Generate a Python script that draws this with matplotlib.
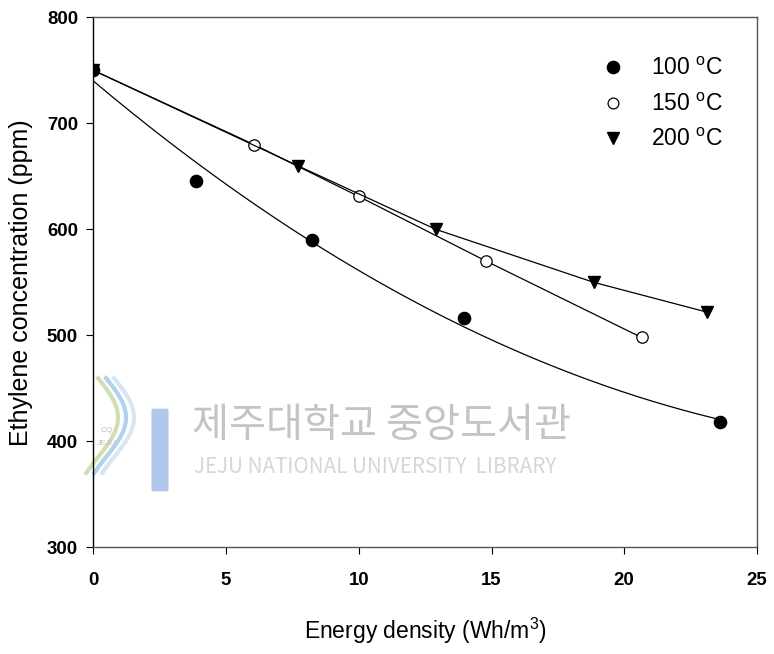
import numpy as np
import matplotlib
matplotlib.use("Agg")
import matplotlib.pyplot as plt
from matplotlib.patches import FancyBboxPatch
from matplotlib.lines import Line2D

plt.rcParams['font.family'] = ['Liberation Sans', 'DejaVu Sans']
plt.rcParams['mathtext.fontset'] = 'custom'
plt.rcParams['mathtext.rm'] = 'Liberation Sans'
plt.rcParams['mathtext.it'] = 'Liberation Sans:italic'
plt.rcParams['mathtext.bf'] = 'Liberation Sans:bold'

# Data
x_100 = [0, 3.85, 8.25, 13.95, 23.6]
y_100 = [750, 646, 590, 516, 418]
x_150 = [0, 6.05, 10.0, 14.8, 20.65]
y_150 = [750, 680, 631, 570, 498]
x_200 = [0, 7.7, 12.9, 18.85, 23.1]
y_200 = [750, 660, 600, 550, 522]
labels = ["100 $^{\\mathrm{o}}$C", "150 $^{\\mathrm{o}}$C", "200 $^{\\mathrm{o}}$C"]
x_ticks = [0, 5, 10, 15, 20, 25]
y_ticks = [300, 400, 500, 600, 700, 800]

fig = plt.figure(figsize=(7.74, 6.54), dpi=100)
ax = fig.add_axes([0.1206, 0.1631, 0.978 - 0.1206, 0.9735 - 0.1631])

# watermark
fig.text(192/774, 1 - 425/654, "제주대학교 중앙도서관", family=['Noto Sans CJK KR'],
         fontsize=29, color='#c4c4c4', va='center', ha='left', zorder=0)
fig.text(194/774, 1 - 467/654, "JEJU NATIONAL UNIVERSITY  LIBRARY", family=['Noto Sans CJK KR'],
         fontsize=14.8, color='#d6d6d6', va='center', ha='left', zorder=0)
# logo
t = np.linspace(0, 1, 50)
for dx, col in [(0, '#cadcaa'), (8, '#a9cde6'), (16, '#d2e4f2')]:
    xs = (98 + dx + 20*np.sin(t*np.pi*1.2)) / 774
    ys = 1 - (378 + t*95) / 654
    fig.add_artist(Line2D(xs, ys, color=col, lw=3, alpha=0.9, zorder=0))
bar = FancyBboxPatch((153/774, 1 - 490/654), 14/774, 80/654, boxstyle='round,pad=0.002',
                     transform=fig.transFigure, facecolor='#afc7e8', edgecolor='none', zorder=0)
fig.add_artist(bar)
fig.text(101/774, 1 - 432/654, "CQ", fontsize=6, color='#c0c0c0', zorder=0)
fig.text(97/774, 1 - 445/654, "JEJU", fontsize=6, color='#c0c0c0', zorder=0)

# 100 C: points + quadratic regression curve
ax.plot(x_100, y_100, linestyle='none', marker='o', ms=8.8, mfc='black', mec='black', zorder=5)
coef = np.polyfit(x_100, y_100, 2)
xf = np.linspace(0, x_100[-1], 200)
ax.plot(xf, np.polyval(coef, xf), color='black', lw=0.9, zorder=3)

# 150 C
ax.plot(x_150, y_150, color='black', lw=0.9, marker='o', ms=8.2, mfc='white', mec='black',
        mew=0.9, zorder=4)
# 200 C
ax.plot(x_200, y_200, color='black', lw=0.9, marker='v', ms=8.8, mfc='black', mec='black',
        zorder=4)

ax.set_xlim(0, 25)
ax.set_ylim(300, 800)
ax.set_xticks(x_ticks)
ax.set_yticks(y_ticks)
ax.set_xticklabels([str(v) for v in x_ticks], fontweight='bold', fontsize=13.4)
ax.set_yticklabels([str(v) for v in y_ticks], fontweight='bold', fontsize=13.4)
ax.tick_params(direction='out', length=5, width=0.8)
ax.yaxis.set_tick_params(pad=6)
ax.xaxis.set_tick_params(pad=13)
for s in ['top', 'right', 'bottom']:
    ax.spines[s].set_color('#555555')
    ax.spines[s].set_linewidth(1.0)
ax.spines['left'].set_color('black')
ax.spines['left'].set_linewidth(1.0)
ax.patch.set_alpha(0)

ax.set_xlabel("Energy density (Wh/m$^{3}$)", fontsize=16.5, labelpad=19)
ax.set_ylabel("Ethylene concentration (ppm)", fontsize=18, labelpad=10)

# legend
handles = [
    Line2D([], [], linestyle='none', marker='o', ms=8.8, mfc='black', mec='black'),
    Line2D([], [], linestyle='none', marker='o', ms=7.8, mfc='white', mec='black', mew=0.9),
    Line2D([], [], linestyle='none', marker='v', ms=8.4, mfc='black', mec='black'),
]
ax.legend(handles, labels, loc='upper right', bbox_to_anchor=(0.979, 0.964), frameon=False,
          fontsize=16.5, handletextpad=0.95, labelspacing=0.55, handlelength=1.4)

fig.savefig("out.png", dpi=100)
